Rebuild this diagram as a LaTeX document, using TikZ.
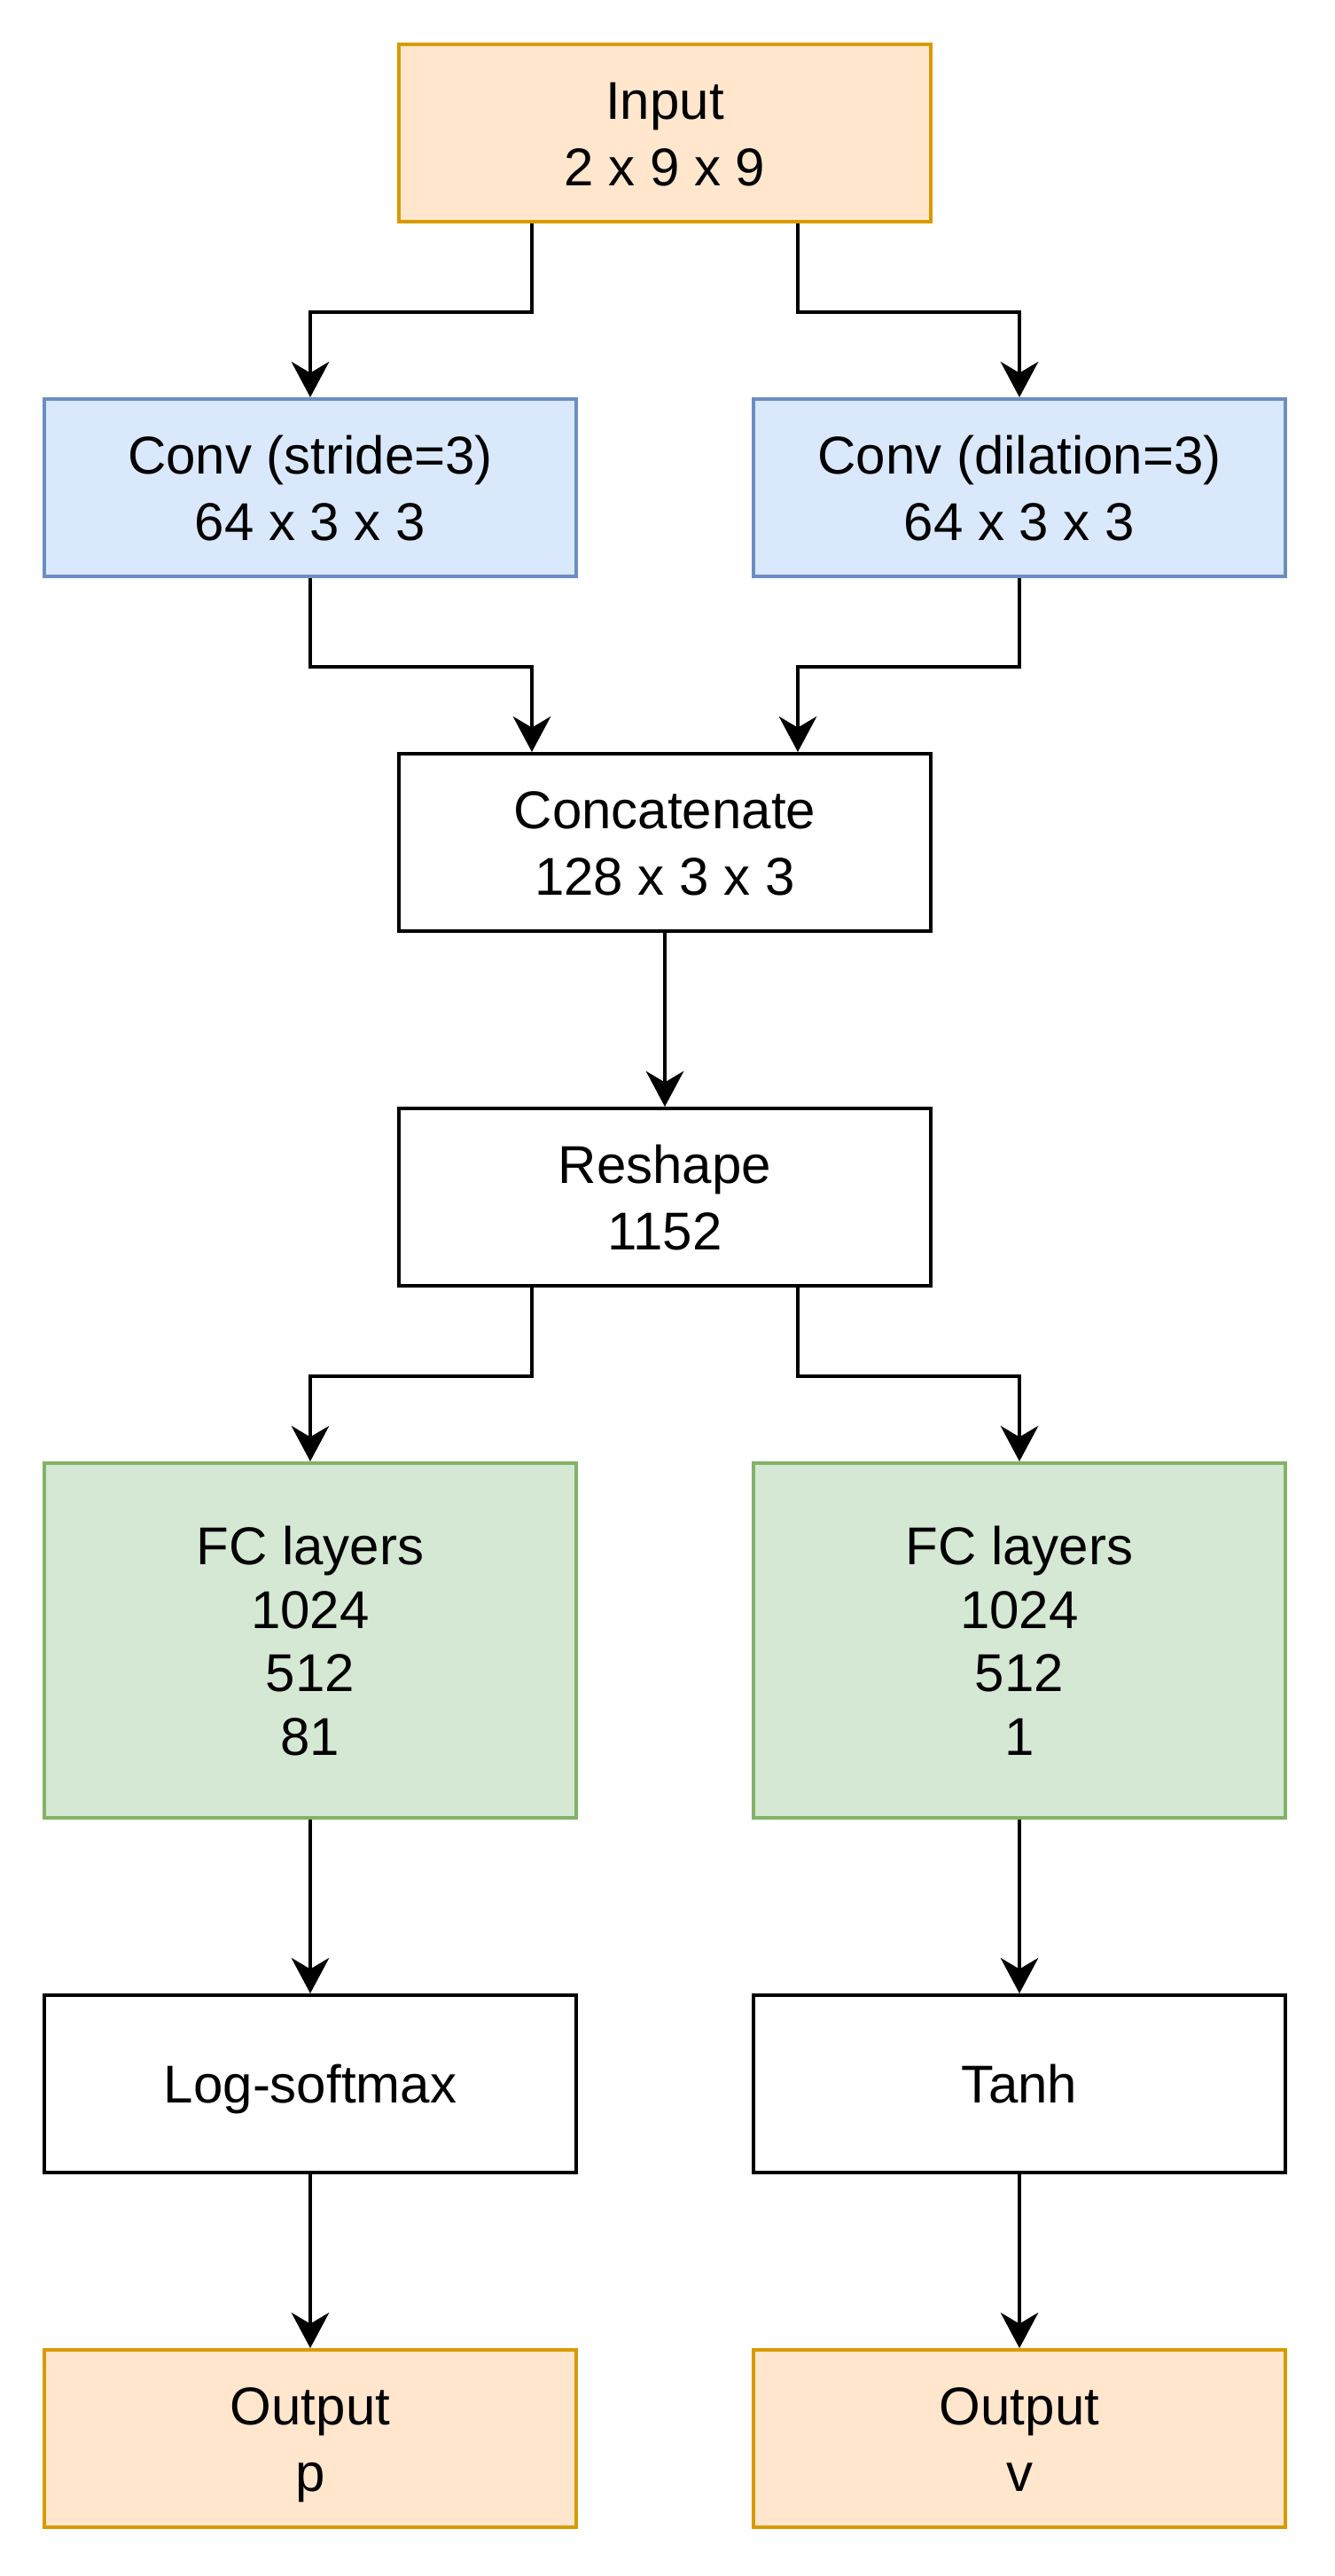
\documentclass[tikz,border=0pt]{standalone}
\usepackage{fontspec}
\setmainfont{Liberation Sans}
\usetikzlibrary{arrows.meta}
\definecolor{orfill}{HTML}{FFE6CC}
\definecolor{ordraw}{HTML}{D79B00}
\definecolor{blfill}{HTML}{DAE8FC}
\definecolor{bldraw}{HTML}{6C8EBF}
\definecolor{grfill}{HTML}{D5E8D4}
\definecolor{grdraw}{HTML}{82B366}
\newcommand{\boxline}[1]{#1\rule[-2.8pt]{0pt}{14.3pt}}
\begin{document}
\begin{tikzpicture}[x=1pt,y=-1pt,
  box/.style={draw=black, fill=white, rectangle, minimum width=120pt, minimum height=40pt,
    inner sep=0pt, align=center, line width=0.8pt, font=\fontsize{12}{14.9}\selectfont},
  orbox/.style={box, draw=ordraw, fill=orfill},
  blbox/.style={box, draw=bldraw, fill=blfill},
  grbox/.style={box, draw=grdraw, fill=grfill, minimum height=80pt, font=\fontsize{12}{14.3}\selectfont},
  conn/.style={draw=black, line width=0.8pt, -{Stealth[length=8pt,width=8.5pt,inset=2.5pt]}}]
\useasboundingbox (0,0) rectangle (301,581);
\node[orbox] (in) at (150,30) {\boxline{Input}\\\boxline{2 x 9 x 9}};
\node[blbox] (cl) at (70,110) {\boxline{Conv (stride=3)}\\\boxline{64 x 3 x 3}};
\node[blbox] (cr) at (230,110) {\boxline{Conv (dilation=3)}\\\boxline{64 x 3 x 3}};
\node[box] (cat) at (150,190) {\boxline{Concatenate}\\\boxline{128 x 3 x 3}};
\node[box] (rs) at (150,270) {\boxline{Reshape}\\\boxline{1152}};
\node[grbox] (fl) at (70,370) {\boxline{FC layers}\\\boxline{1024}\\\boxline{512}\\\boxline{81}};
\node[grbox] (fr) at (230,370) {\boxline{FC layers}\\\boxline{1024}\\\boxline{512}\\\boxline{1}};
\node[box] (ls) at (70,470) {\boxline{Log-softmax}};
\node[box] (th) at (230,470) {\boxline{Tanh}};
\node[orbox] (op) at (70,550) {\boxline{Output}\\\boxline{p}};
\node[orbox] (ov) at (230,550) {\boxline{Output}\\\boxline{v}};
\draw[conn] ([xshift=-30pt]in.south) -- ++(0pt,-20pt) -| (cl.north);
\draw[conn] ([xshift=30pt]in.south) -- ++(0pt,-20pt) -| (cr.north);
\draw[conn] (cl.south) -- ++(0pt,-20pt) -| ([xshift=-30pt]cat.north);
\draw[conn] (cr.south) -- ++(0pt,-20pt) -| ([xshift=30pt]cat.north);
\draw[conn] (cat) -- (rs);
\draw[conn] ([xshift=-30pt]rs.south) -- ++(0pt,-20pt) -| (fl.north);
\draw[conn] ([xshift=30pt]rs.south) -- ++(0pt,-20pt) -| (fr.north);
\draw[conn] (fl) -- (ls);
\draw[conn] (fr) -- (th);
\draw[conn] (ls) -- (op);
\draw[conn] (th) -- (ov);
\end{tikzpicture}
\end{document}
